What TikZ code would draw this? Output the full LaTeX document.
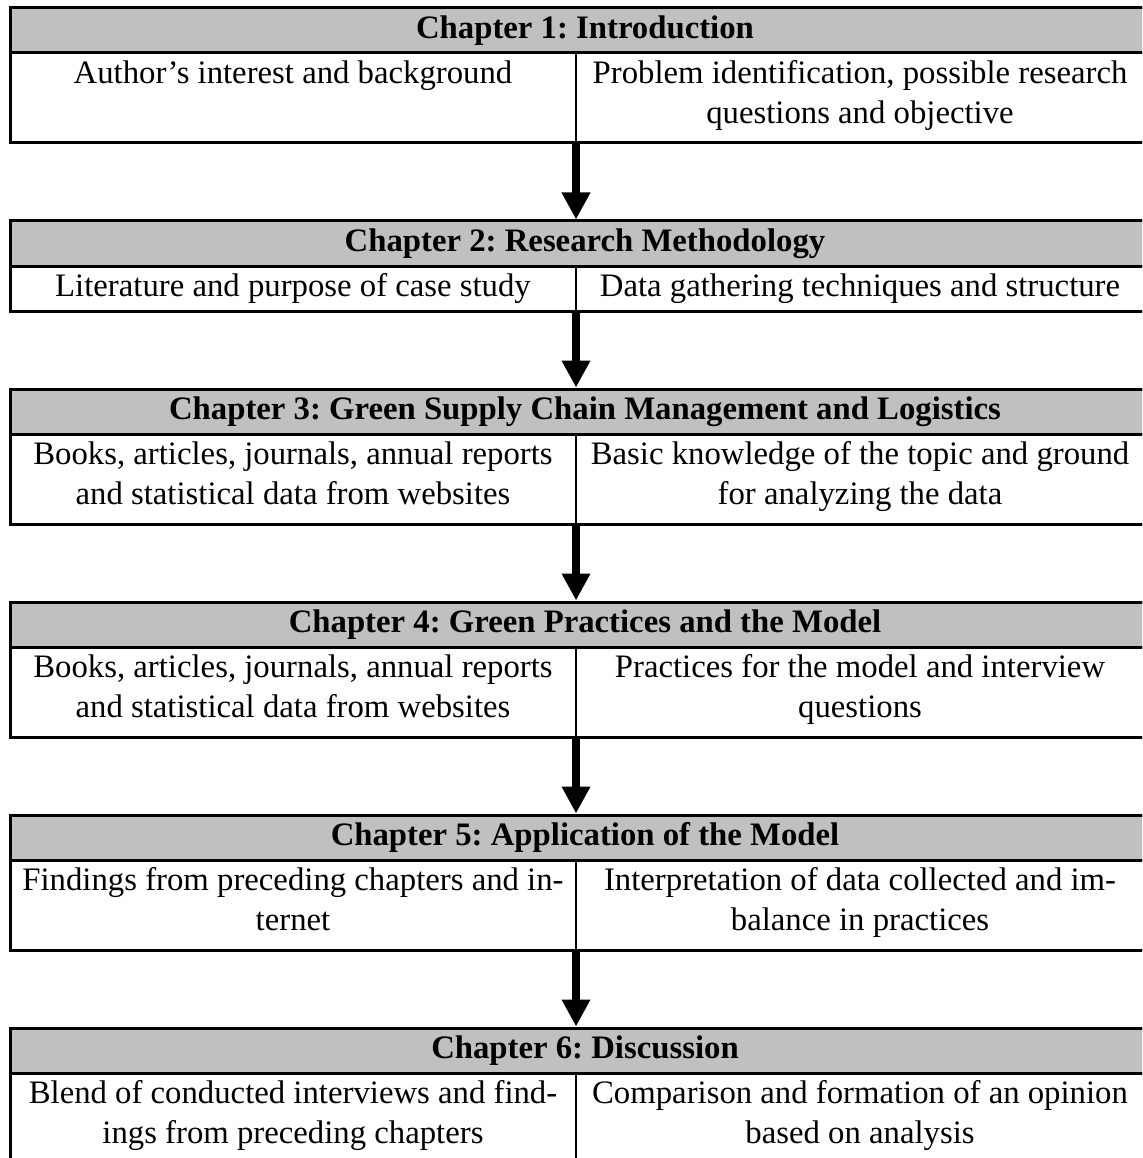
\documentclass[tikz,border=0pt]{standalone}
\usepackage{fontspec}
\setmainfont{Liberation Serif}
\usetikzlibrary{arrows.meta,calc}

% one drawing unit = one "pixel" of the layout grid (0.4pt)
\newlength\pxu
\setlength\pxu{0.4pt}
\newcommand\cellfont{\fontsize{13.1}{16}\selectfont}
\definecolor{hdrgray}{HTML}{C0C0C0}

\tikzset{
  hdr/.style={draw, line width=1.2pt, fill=hdrgray, anchor=north west,
    inner sep=0pt, outer sep=0pt, minimum width=460pt,
    minimum height=18pt, font=\cellfont\bfseries},
  cell/.style={draw, line width=0.8pt, anchor=north west,
    inner sep=0pt, outer sep=0pt},
  txt/.style={anchor=north, inner sep=0pt, align=center, font=\cellfont},
  frame/.style={line width=1.2pt},
  flow/.style={line width=3.2pt,
    -{Triangle[width=10.8pt, length=10.8pt]}, shorten >=0.6pt},
}

% #1 name, #2 top edge, #3 body height, #4 title, #5 left text, #6 right text
\newcommand\chapblock[6]{%
  \node[hdr] (#1h) at (10,#2) {\strut #4};
  \node[cell, minimum width=226.4pt, minimum height=#3\pxu] (#1l) at (#1h.south west) {};
  \node[cell, minimum width=227.2pt, minimum height=#3\pxu] (#1r) at (#1l.north east) {};
  \node[txt] (#1lt) at ([yshift=-0.8pt]#1l.north) {#5};
  \node[txt] (#1rt) at ([yshift=-0.8pt]#1r.north) {#6};
  \draw[frame] (#1h.north west) rectangle (#1r.south east);
}

\begin{document}
\frenchspacing
\begin{tikzpicture}[x=0.4pt, y=-0.4pt]
  \useasboundingbox (0,0) rectangle (1142,1158);
  \clip (0,0) rectangle (1142,1158);
  \fill[white] (0,0) rectangle (1142,1158);

  \chapblock{a}{8}{90}{Chapter 1: Introduction}
    {\strut Author's interest and background}
    {\strut Problem identification, possible research\\\strut questions and objective}
  \chapblock{b}{221}{45}{Chapter 2: Research Methodology}
    {\strut Literature and purpose of case study}
    {\strut Data gathering techniques and structure}
  \chapblock{c}{389}{90}{Chapter 3: Green Supply Chain Management and Logistics}
    {\strut Books, articles, journals, annual reports\\\strut and statistical data from websites}
    {\strut Basic knowledge of the topic and ground\\\strut for analyzing the data}
  \chapblock{d}{602}{90}{Chapter 4: Green Practices and the Model}
    {\strut Books, articles, journals, annual reports\\\strut and statistical data from websites}
    {\strut Practices for the model and interview\\\strut questions}
  \chapblock{e}{815}{90}{Chapter 5: Application of the Model}
    {\strut Findings from preceding chapters and in-\\\strut ternet}
    {\strut Interpretation of data collected and im-\\\strut balance in practices}
  \chapblock{f}{1028}{90}{Chapter 6: Discussion}
    {\strut Blend of conducted interviews and find-\\\strut ings from preceding chapters}
    {\strut Comparison and formation of an opinion\\\strut based on analysis}

  % arrows from each chapter down to the next one
  \draw[flow] (al.south east) -- (al.south east |- bh.north);
  \draw[flow] (bl.south east) -- (bl.south east |- ch.north);
  \draw[flow] (cl.south east) -- (cl.south east |- dh.north);
  \draw[flow] (dl.south east) -- (dl.south east |- eh.north);
  \draw[flow] (el.south east) -- (el.south east |- fh.north);
\end{tikzpicture}
\end{document}
